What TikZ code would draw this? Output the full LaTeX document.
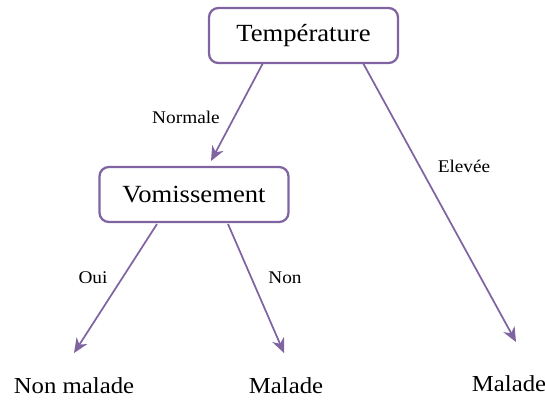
\documentclass[tikz,border=0pt]{standalone}
\usepackage{fontspec}
\setmainfont{Liberation Serif}[FakeStretch=1.08]
\usetikzlibrary{arrows.meta}
\definecolor{purp}{HTML}{8064A2}
\tikzset{
  box/.style={draw=purp, line width=1.7pt, rounded corners=7pt, fill=white, minimum width=189*0.75pt, minimum height=55*0.75pt, font=\fontsize{18.5}{20}\selectfont, inner sep=0pt},
  leaf/.style={font=\fontsize{17.2}{19}\selectfont, inner sep=0pt},
  lbl/.style={font=\fontsize{13.4}{15}\selectfont, inner sep=0pt},
  arr/.style={draw=purp, line width=1.3pt, -{Stealth[length=11pt,width=9.5pt,inset=3.5pt]}}
}
\begin{document}
\begin{tikzpicture}[x=0.75pt,y=-0.75pt]
\useasboundingbox (0,0) rectangle (545,401);
\node[box] (T) at (303.5,35.5) {\raisebox{-1.5pt}{Température}};
\node[box] (V) at (194,194.5) {\raisebox{-1.5pt}{Vomissement}};
\node[leaf] (L1) at (74,386) {Non malade};
\node[leaf] (L2) at (286,386) {Malade};
\node[leaf] (L3) at (509,384) {Malade};
\coordinate (t1) at (263,63);
\coordinate (t2) at (363,63);
\coordinate (v1) at (157,224);
\coordinate (v2) at (228,224);
\coordinate (e1) at (211,161);
\coordinate (e2) at (516,342);
\coordinate (e3) at (74,353);
\coordinate (e4) at (284,353);
\draw[arr] (t1) -- (e1);
\draw[arr] (t2) -- (e2);
\draw[arr] (v1) -- (e3);
\draw[arr] (v2) -- (e4);
\node[lbl] (n1) at (186,117) {Normale};
\node[lbl] (n2) at (464,166) {Elevée};
\node[lbl] (n3) at (93,278) {Oui};
\node[lbl] (n4) at (285,278) {Non};
\end{tikzpicture}
\end{document}
